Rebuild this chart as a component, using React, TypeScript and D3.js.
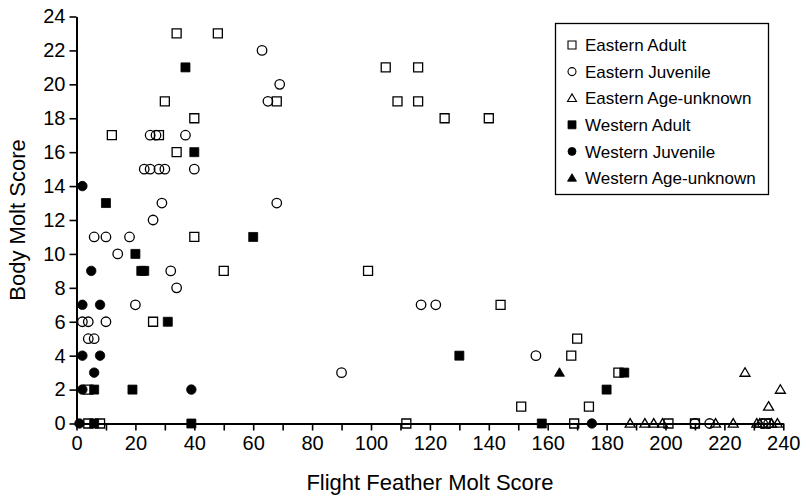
import React, { useEffect, useRef } from "react";
import * as d3 from "d3";

// [flight feather molt score, body molt score]
const easternAdult: [number, number][] = [
  [34, 23], [48, 23], [105, 21], [116, 21], [30, 19], [68, 19], [109, 19], [116, 19],
  [40, 18], [125, 18], [140, 18], [12, 17], [28, 17], [34, 16], [40, 11], [50, 9],
  [99, 9], [144, 7], [26, 6], [170, 5], [168, 4], [184, 3], [4, 2], [151, 1], [174, 1],
  [4, 0], [8, 0], [112, 0], [169, 0], [201, 0], [210, 0], [234, 0],
];
const easternJuvenile: [number, number][] = [
  [63, 22], [69, 20], [65, 19], [25, 17], [27, 17], [37, 17], [23, 15], [25, 15],
  [28, 15], [30, 15], [40, 15], [29, 13], [68, 13], [26, 12], [6, 11], [10, 11],
  [18, 11], [14, 10], [32, 9], [34, 8], [20, 7], [117, 7], [122, 7], [2, 6], [4, 6],
  [10, 6], [4, 5], [6, 5], [156, 4], [90, 3], [210, 0], [215, 0], [233, 0], [235, 0],
];
const easternUnknown: [number, number][] = [
  [227, 3], [239, 2], [235, 1], [188, 0], [193, 0], [196, 0], [199, 0], [217, 0],
  [223, 0], [231, 0], [232, 0], [236, 0], [238, 0],
];
const westernAdult: [number, number][] = [
  [37, 21], [40, 16], [10, 13], [60, 11], [20, 10], [22, 9], [23, 9], [31, 6],
  [130, 4], [186, 3], [180, 2], [6, 2], [19, 2], [6, 0], [39, 0], [158, 0],
];
const westernJuvenile: [number, number][] = [
  [2, 14], [5, 9], [2, 7], [8, 7], [2, 4], [8, 4], [6, 3], [2, 2], [39, 2], [1, 0], [175, 0],
];
const westernUnknown: [number, number][] = [[164, 3]];

const seriesNames = [
  "Eastern Adult",
  "Eastern Juvenile",
  "Eastern Age-unknown",
  "Western Adult",
  "Western Juvenile",
  "Western Age-unknown",
];
const seriesData = [easternAdult, easternJuvenile, easternUnknown, westernAdult, westernJuvenile, westernUnknown];
const seriesShape = ["square", "circle", "triangle", "square", "circle", "triangle"];
const seriesFilled = [false, false, false, true, true, true];

const xTicks = d3.range(0, 241, 10);
const yTicks = d3.range(0, 25, 2);

const FONT = "'Liberation Sans', Arial, Helvetica, sans-serif";

// marker path centred on 0,0
const markerPath = (shape: string, s: number) => {
  if (shape === "square") return `M${-s / 2},${-s / 2}h${s}v${s}h${-s}Z`;
  if (shape === "circle") {
    const r = s / 2;
    return `M${-r},0a${r},${r} 0 1,0 ${2 * r},0a${r},${r} 0 1,0 ${-2 * r},0Z`;
  }
  const h = s * 0.9;
  return `M0,${-h * 0.6}L${s / 2 + 0.5},${h * 0.45}L${-s / 2 - 0.5},${h * 0.45}Z`;
};

const App = () => {
  const svgRef = useRef<SVGSVGElement>(null);

  useEffect(() => {
    const svg = d3.select(svgRef.current);
    svg.selectAll("*").remove();

    const x = d3.scaleLinear().domain([0, 240]).range([76.5, 783.3]);
    const y = d3.scaleLinear().domain([0, 24]).range([423.5, 16.5]);

    // axes
    const xAxis = svg
      .append("g")
      .attr("transform", `translate(0,${y(0)})`)
      .call(
        d3
          .axisBottom(x)
          .tickValues(xTicks)
          .tickSize(7)
          .tickSizeOuter(0)
          .tickPadding(3)
          .tickFormat((d) => ((d as number) % 20 === 0 ? String(d) : ""))
      );
    const yAxis = svg
      .append("g")
      .attr("transform", `translate(${x(0)},0)`)
      .call(d3.axisLeft(y).tickValues(yTicks).tickSize(7).tickSizeOuter(0).tickPadding(4));

    [xAxis, yAxis].forEach((g) => {
      g.select(".domain").attr("stroke", "#000").attr("stroke-width", 2);
      g.selectAll(".tick line").attr("stroke", "#000").attr("stroke-width", 1.6);
      g.selectAll(".tick text")
        .attr("fill", "#000")
        .style("font-family", FONT)
        .style("font-size", "20px");
    });
    xAxis.selectAll(".tick text").attr("dy", "0.8em");

    // axis titles
    svg
      .append("text")
      .attr("x", (x(0) + x(240)) / 2)
      .attr("y", 490)
      .attr("text-anchor", "middle")
      .style("font-family", FONT)
      .style("font-size", "22px")
      .text("Flight Feather Molt Score");
    svg
      .append("text")
      .attr("transform", `translate(25,${(y(0) + y(24)) / 2}) rotate(-90)`)
      .attr("text-anchor", "middle")
      .style("font-family", FONT)
      .style("font-size", "22px")
      .text("Body Molt Score");

    // points
    seriesData.forEach((pts, i) => {
      svg
        .append("g")
        .selectAll("path")
        .data(pts)
        .enter()
        .append("path")
        .attr("transform", (d) => `translate(${x(d[0])},${y(d[1])})`)
        .attr("d", markerPath(seriesShape[i], seriesShape[i] === "circle" ? 9.5 : 9))
        .attr("fill", seriesFilled[i] ? "#000" : "none")
        .attr("stroke", "#000")
        .attr("stroke-width", seriesFilled[i] ? 0.8 : 1.3);
    });

    // legend
    const legend = svg.append("g");
    legend
      .append("rect")
      .attr("x", 555.5)
      .attr("y", 23.5)
      .attr("width", 213)
      .attr("height", 171)
      .attr("fill", "#fff")
      .attr("stroke", "#000")
      .attr("stroke-width", 1.3);
    seriesNames.forEach((name, i) => {
      const cy = 45 + i * 26.6;
      legend
        .append("path")
        .attr("transform", `translate(572,${cy})`)
        .attr("d", markerPath(seriesShape[i], 8))
        .attr("fill", seriesFilled[i] ? "#000" : "none")
        .attr("stroke", "#000")
        .attr("stroke-width", seriesFilled[i] ? 0.8 : 1.1);
      legend
        .append("text")
        .attr("x", 585)
        .attr("y", cy)
        .attr("dy", "0.36em")
        .style("font-family", FONT)
        .style("font-size", "17px")
        .text(name);
    });
  }, []);

  return (
    <svg
      ref={svgRef}
      width={807}
      height={502}
      style={{ position: "absolute", left: 0, top: 0, background: "#fff" }}
    />
  );
};

export default App;
